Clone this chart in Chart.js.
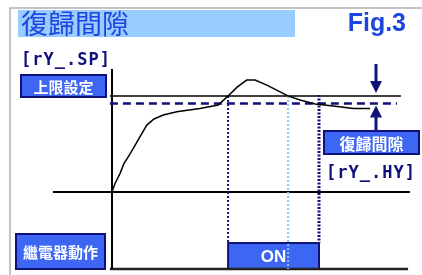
<!DOCTYPE html>
<html>
<head>
<meta charset="utf-8">
<script src="https://cdn.jsdelivr.net/npm/chart.js@4"></script>
<style>
  body { margin: 0; background: #fff; }
  canvas { display: block; }
</style>
</head>
<body>
<canvas id="c" width="422" height="275"></canvas>
<script>
// process value curve (time, value)
const curveTime = [0, 1, 2.7, 4, 5.4, 7.1, 9.3, 11.6, 14, 17.1, 21.6, 29.3, 35.4, 38.7, 41.6, 44.9, 47.7, 51.6, 54.9, 58.8, 62.7, 67.7, 73.8, 80.4, 86];
const curveValue = [0, 9, 19.5, 29.8, 36.7, 45.4, 57.5, 69.7, 76, 80.1, 83.5, 87, 90.5, 100, 108.9, 116.5, 116.5, 111.3, 106.1, 99.8, 95.7, 91.5, 89.4, 87, 87];

const setPoint = 100;       // rY_.SP
const hysteresis = 8;       // rY_.HY
const relayOnTime = 38.7;   // PV reaches SP
const crossDownTime = 58.7; // PV back below SP
const relayOffTime = 69;    // PV below SP - HY
const relayLow = -80;
const relayHigh = -53;

const axisTop = 128;
const lineStart = -0.7;
const baseStart = -19.7;

const navy = "#10107a";
const boxBlue = "#3d66f2";

function pts(xs, ys) { return xs.map((x, i) => ({ x: x, y: ys[i] })); }

function box(ctx, x, y, w, h, text, font) {
  ctx.fillStyle = boxBlue;
  ctx.fillRect(x, y, w, h);
  ctx.strokeStyle = navy;
  ctx.lineWidth = 2;
  ctx.strokeRect(x, y, w, h);
  ctx.fillStyle = "#fff";
  ctx.font = font;
  ctx.textAlign = "center";
  ctx.textBaseline = "middle";
  ctx.fillText(text, x + w / 2, y + h / 2 + 1);
}

function arrow(ctx, x, fromY, tipY) {
  const dir = tipY > fromY ? 1 : -1;
  ctx.strokeStyle = navy;
  ctx.fillStyle = navy;
  ctx.lineWidth = 3;
  ctx.beginPath();
  ctx.moveTo(x, fromY);
  ctx.lineTo(x, tipY - dir * 10);
  ctx.stroke();
  ctx.beginPath();
  ctx.moveTo(x, tipY);
  ctx.lineTo(x - 6, tipY - dir * 12);
  ctx.lineTo(x + 6, tipY - dir * 12);
  ctx.closePath();
  ctx.fill();
}

const decor = {
  id: "decor",
  beforeDatasetsDraw(chart) {
    const ctx = chart.ctx;
    const sx = chart.scales.x, sy = chart.scales.y;
    ctx.save();
    // frame
    ctx.strokeStyle = "#c4c4c4";
    ctx.lineWidth = 2;
    ctx.beginPath();
    ctx.moveTo(10, 275);
    ctx.lineTo(10, 8);
    ctx.lineTo(422, 8);
    ctx.stroke();
    // title band
    ctx.fillStyle = "#99ccff";
    ctx.fillRect(18, 10, 277, 27);
    ctx.fillStyle = "#1f45e0";
    ctx.font = "27px 'Noto Sans CJK TC'";
    ctx.textAlign = "left";
    ctx.textBaseline = "middle";
    ctx.fillText("復歸間隙", 21, 24);
    ctx.font = "bold 25px 'Liberation Sans'";
    ctx.textAlign = "right";
    ctx.fillText("Fig.3", 406, 24);
    // seven segment labels
    ctx.fillStyle = navy;
    ctx.font = "bold 17px 'DejaVu Sans Mono'";
    ctx.textAlign = "left";
    ctx.letterSpacing = "1px";
    ctx.fillText("[rY_.SP]", 21, 61);
    ctx.fillText("[rY_.HY]", 326, 174);
    ctx.letterSpacing = "0px";
    // label boxes
    box(ctx, 21, 75, 85, 22, "上限設定", "bold 15px 'Noto Sans CJK TC'");
    box(ctx, 16, 234, 89, 35, "繼電器動作", "bold 15px 'Noto Sans CJK TC'");
    box(ctx, 324, 131, 95, 23, "復歸間隙", "bold 16px 'Noto Sans CJK TC'");
    // relay ON bar
    const x0 = sx.getPixelForValue(relayOnTime), x1 = sx.getPixelForValue(relayOffTime);
    const y0 = sy.getPixelForValue(relayHigh), y1 = sy.getPixelForValue(relayLow);
    box(ctx, x0, y0, x1 - x0, y1 - y0, "ON", "bold 17px 'Liberation Sans'");
    ctx.restore();
  },
  afterDatasetsDraw(chart) {
    const ctx = chart.ctx;
    const sx = chart.scales.x, sy = chart.scales.y;
    ctx.save();
    const ax = sx.getPixelForValue(88);
    arrow(ctx, ax, 64, sy.getPixelForValue(setPoint) - 3);
    arrow(ctx, ax, 131, sy.getPixelForValue(setPoint - hysteresis) + 2);
    ctx.restore();
  }
};

new Chart(document.getElementById("c"), {
  type: "line",
  data: {
    datasets: [
      { data: pts(curveTime, curveValue), borderColor: "#000", borderWidth: 1.5 },
      { data: pts([crossDownTime, crossDownTime], [setPoint, relayLow]), borderColor: "#8cc4f4", borderWidth: 2, borderDash: [2, 2] },
      { data: pts([relayOnTime, relayOnTime], [setPoint, relayHigh]), borderColor: navy, borderWidth: 2, borderDash: [2, 2] },
      { data: pts([relayOffTime, relayOffTime], [setPoint + 1, relayHigh]), borderColor: navy, borderWidth: 3, borderDash: [2, 1.5] },
      { data: pts([lineStart, 96.3], [setPoint, setPoint]), borderColor: "#000", borderWidth: 1.5 },
      { data: pts([lineStart, 95], [setPoint - hysteresis, setPoint - hysteresis]), borderColor: navy, borderWidth: 2.5, borderDash: [8, 5] },
      { data: pts([0, 0], [axisTop, relayLow]), borderColor: "#000", borderWidth: 2 },
      { data: pts([baseStart, 99.3], [0, 0]), borderColor: "#000", borderWidth: 2 },
      { data: pts([lineStart, 98.7], [relayLow, relayLow]), borderColor: "#222", borderWidth: 2.5 }
    ]
  },
  options: {
    responsive: false,
    animation: false,
    layout: { padding: { left: 112, right: 10, top: 69, bottom: 6 } },
    elements: { point: { radius: 0 }, line: { tension: 0 } },
    datasets: { line: { clip: false } },
    scales: {
      x: { type: "linear", min: 0, max: 100, display: false },
      y: { type: "linear", min: relayLow, max: axisTop, display: false }
    },
    plugins: { legend: { display: false }, tooltip: { enabled: false } }
  },
  plugins: [decor]
});
</script>
</body>
</html>
